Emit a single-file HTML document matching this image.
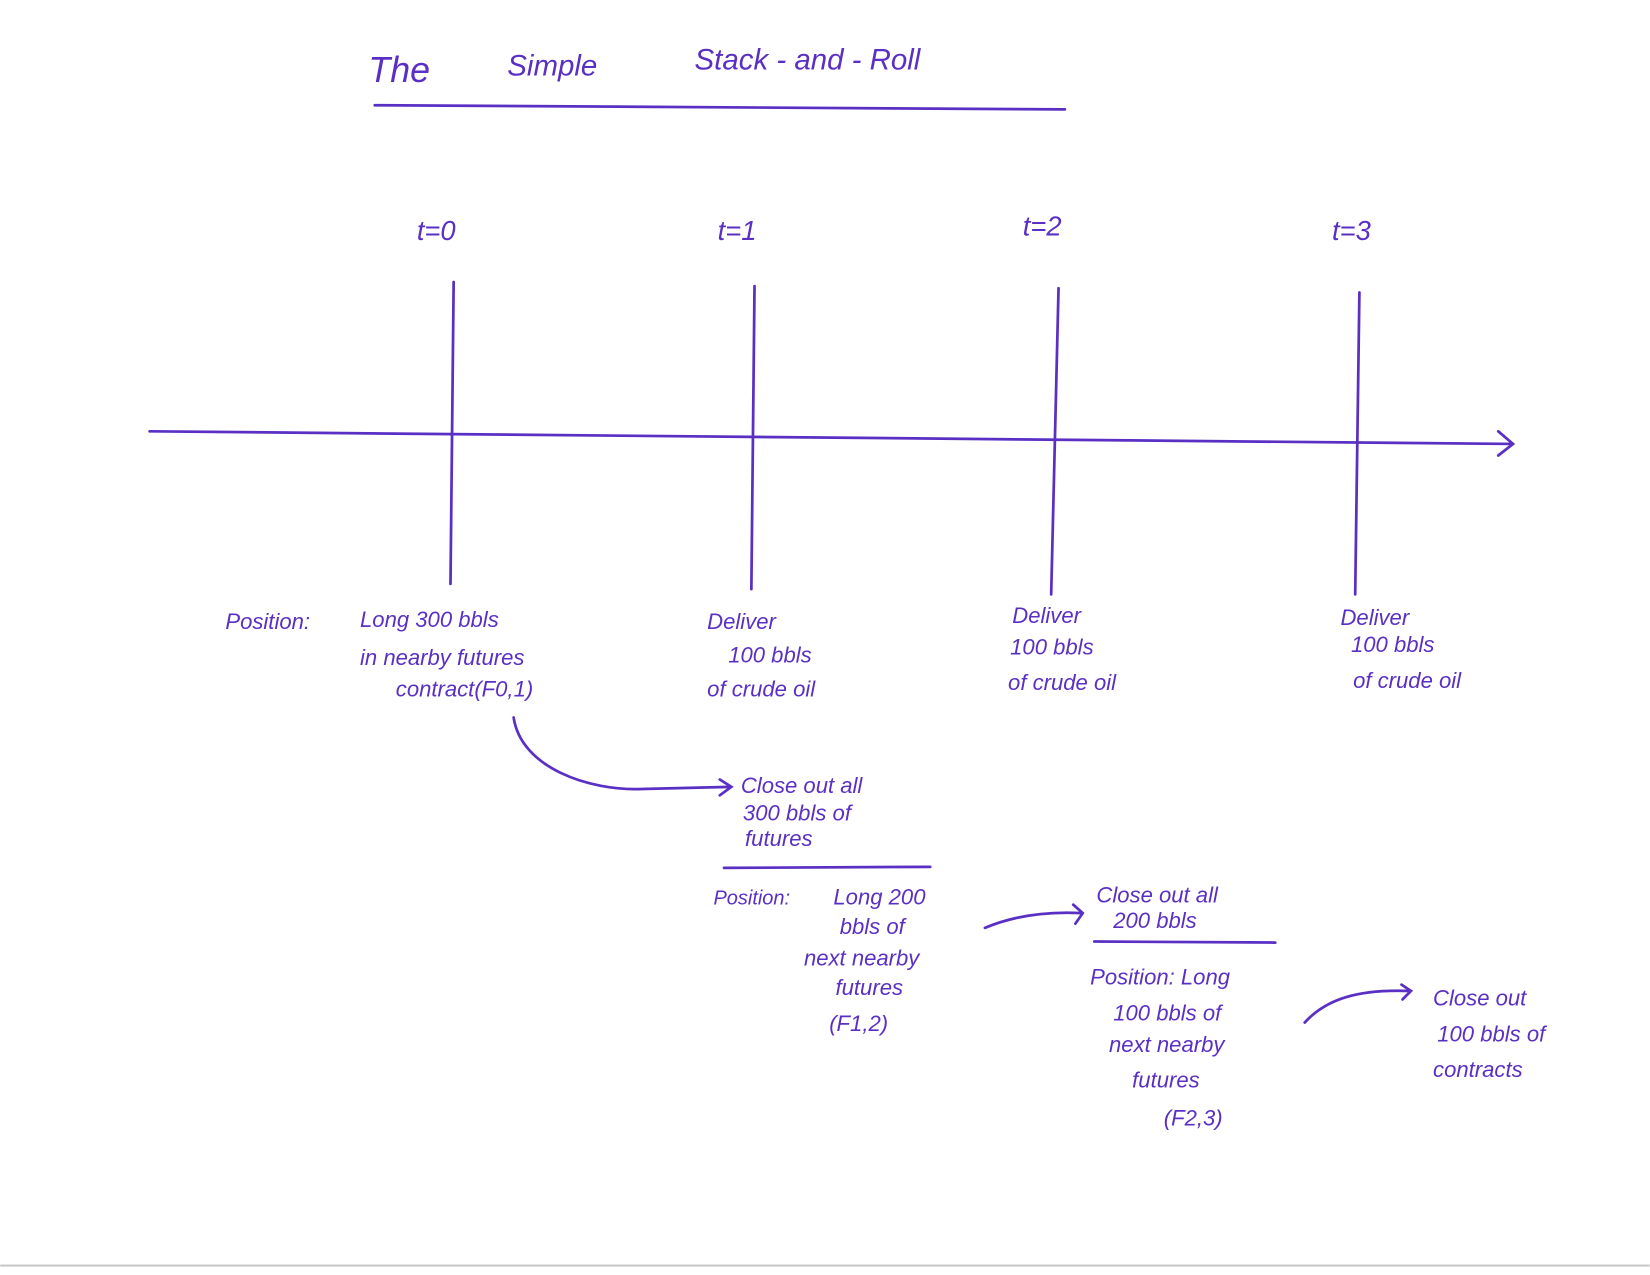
<!DOCTYPE html>
<html><head><meta charset="utf-8"><style>
html,body{margin:0;padding:0;background:#fff;}
svg{display:block}
text{font-family:"Liberation Sans",sans-serif;fill:#5a30c4;font-style:italic}
</style></head><body>
<svg width="1650" height="1275" viewBox="0 0 1568 1212" xmlns="http://www.w3.org/2000/svg">
<rect width="1568" height="1212" fill="#fff"/>
<line x1="0" y1="1203" x2="1568" y2="1203" stroke="#c8c8c8" stroke-width="2"/>
<g stroke="#5a30c4" stroke-width="2.6" fill="none" stroke-linecap="round">
<line x1="356" y1="100" x2="1012" y2="104"/>
<line x1="142" y1="410" x2="1438" y2="422"/>
<path d="M1424 410 L1438 422 L1424 433"/>
<line x1="431" y1="268" x2="428" y2="555"/>
<line x1="717" y1="272" x2="714" y2="560"/>
<line x1="1006" y1="274" x2="999" y2="565"/>
<line x1="1292" y1="278" x2="1288" y2="565"/>
<path d="M488 682 C495 730 560 752 610 750 L694 748"/>
<path d="M684 741 L695 748 L684 756"/>
<line x1="688" y1="825" x2="884" y2="824"/>
<path d="M936 882 C960 872 990 866 1028 868"/>
<path d="M1020 860 L1029 868 L1022 878"/>
<line x1="1040" y1="895" x2="1212" y2="896"/>
<path d="M1240 972 C1260 950 1290 940 1340 942"/>
<path d="M1332 936 L1341 942 L1333 950"/>
</g>
<g font-size="26">
<text x="350" y="78" font-size="34">The</text>
<text x="482" y="72" font-size="28">Simple</text>
<text x="660" y="66" font-size="28">Stack - and - Roll</text>
<text x="396" y="228">t=0</text>
<text x="682" y="228">t=1</text>
<text x="972" y="224">t=2</text>
<text x="1266" y="228">t=3</text>
</g>
<g font-size="21">
<text x="214" y="598">Position:</text>
<text x="342" y="596">Long 300 bbls</text>
<text x="342" y="632">in nearby futures</text>
<text x="376" y="662">contract(F0,1)</text>
<text x="672" y="598">Deliver</text>
<text x="692" y="630">100 bbls</text>
<text x="672" y="662">of crude oil</text>
<text x="962" y="592">Deliver</text>
<text x="960" y="622">100 bbls</text>
<text x="958" y="656">of crude oil</text>
<text x="1274" y="594">Deliver</text>
<text x="1284" y="620">100 bbls</text>
<text x="1286" y="654">of crude oil</text>
<text x="704" y="754">Close out all</text>
<text x="706" y="780">300 bbls of</text>
<text x="708" y="804">futures</text>
<text x="678" y="860" font-size="19">Position:</text>
<text x="792" y="860">Long 200</text>
<text x="798" y="888">bbls of</text>
<text x="764" y="918">next nearby</text>
<text x="794" y="946">futures</text>
<text x="788" y="980">(F1,2)</text>
<text x="1042" y="858">Close out all</text>
<text x="1058" y="882">200 bbls</text>
<text x="1036" y="936">Position: Long</text>
<text x="1058" y="970">100 bbls of</text>
<text x="1054" y="1000">next nearby</text>
<text x="1076" y="1034">futures</text>
<text x="1106" y="1070">(F2,3)</text>
<text x="1362" y="956">Close out</text>
<text x="1366" y="990">100 bbls of</text>
<text x="1362" y="1024">contracts</text>
</g>
</svg>
</body></html>
